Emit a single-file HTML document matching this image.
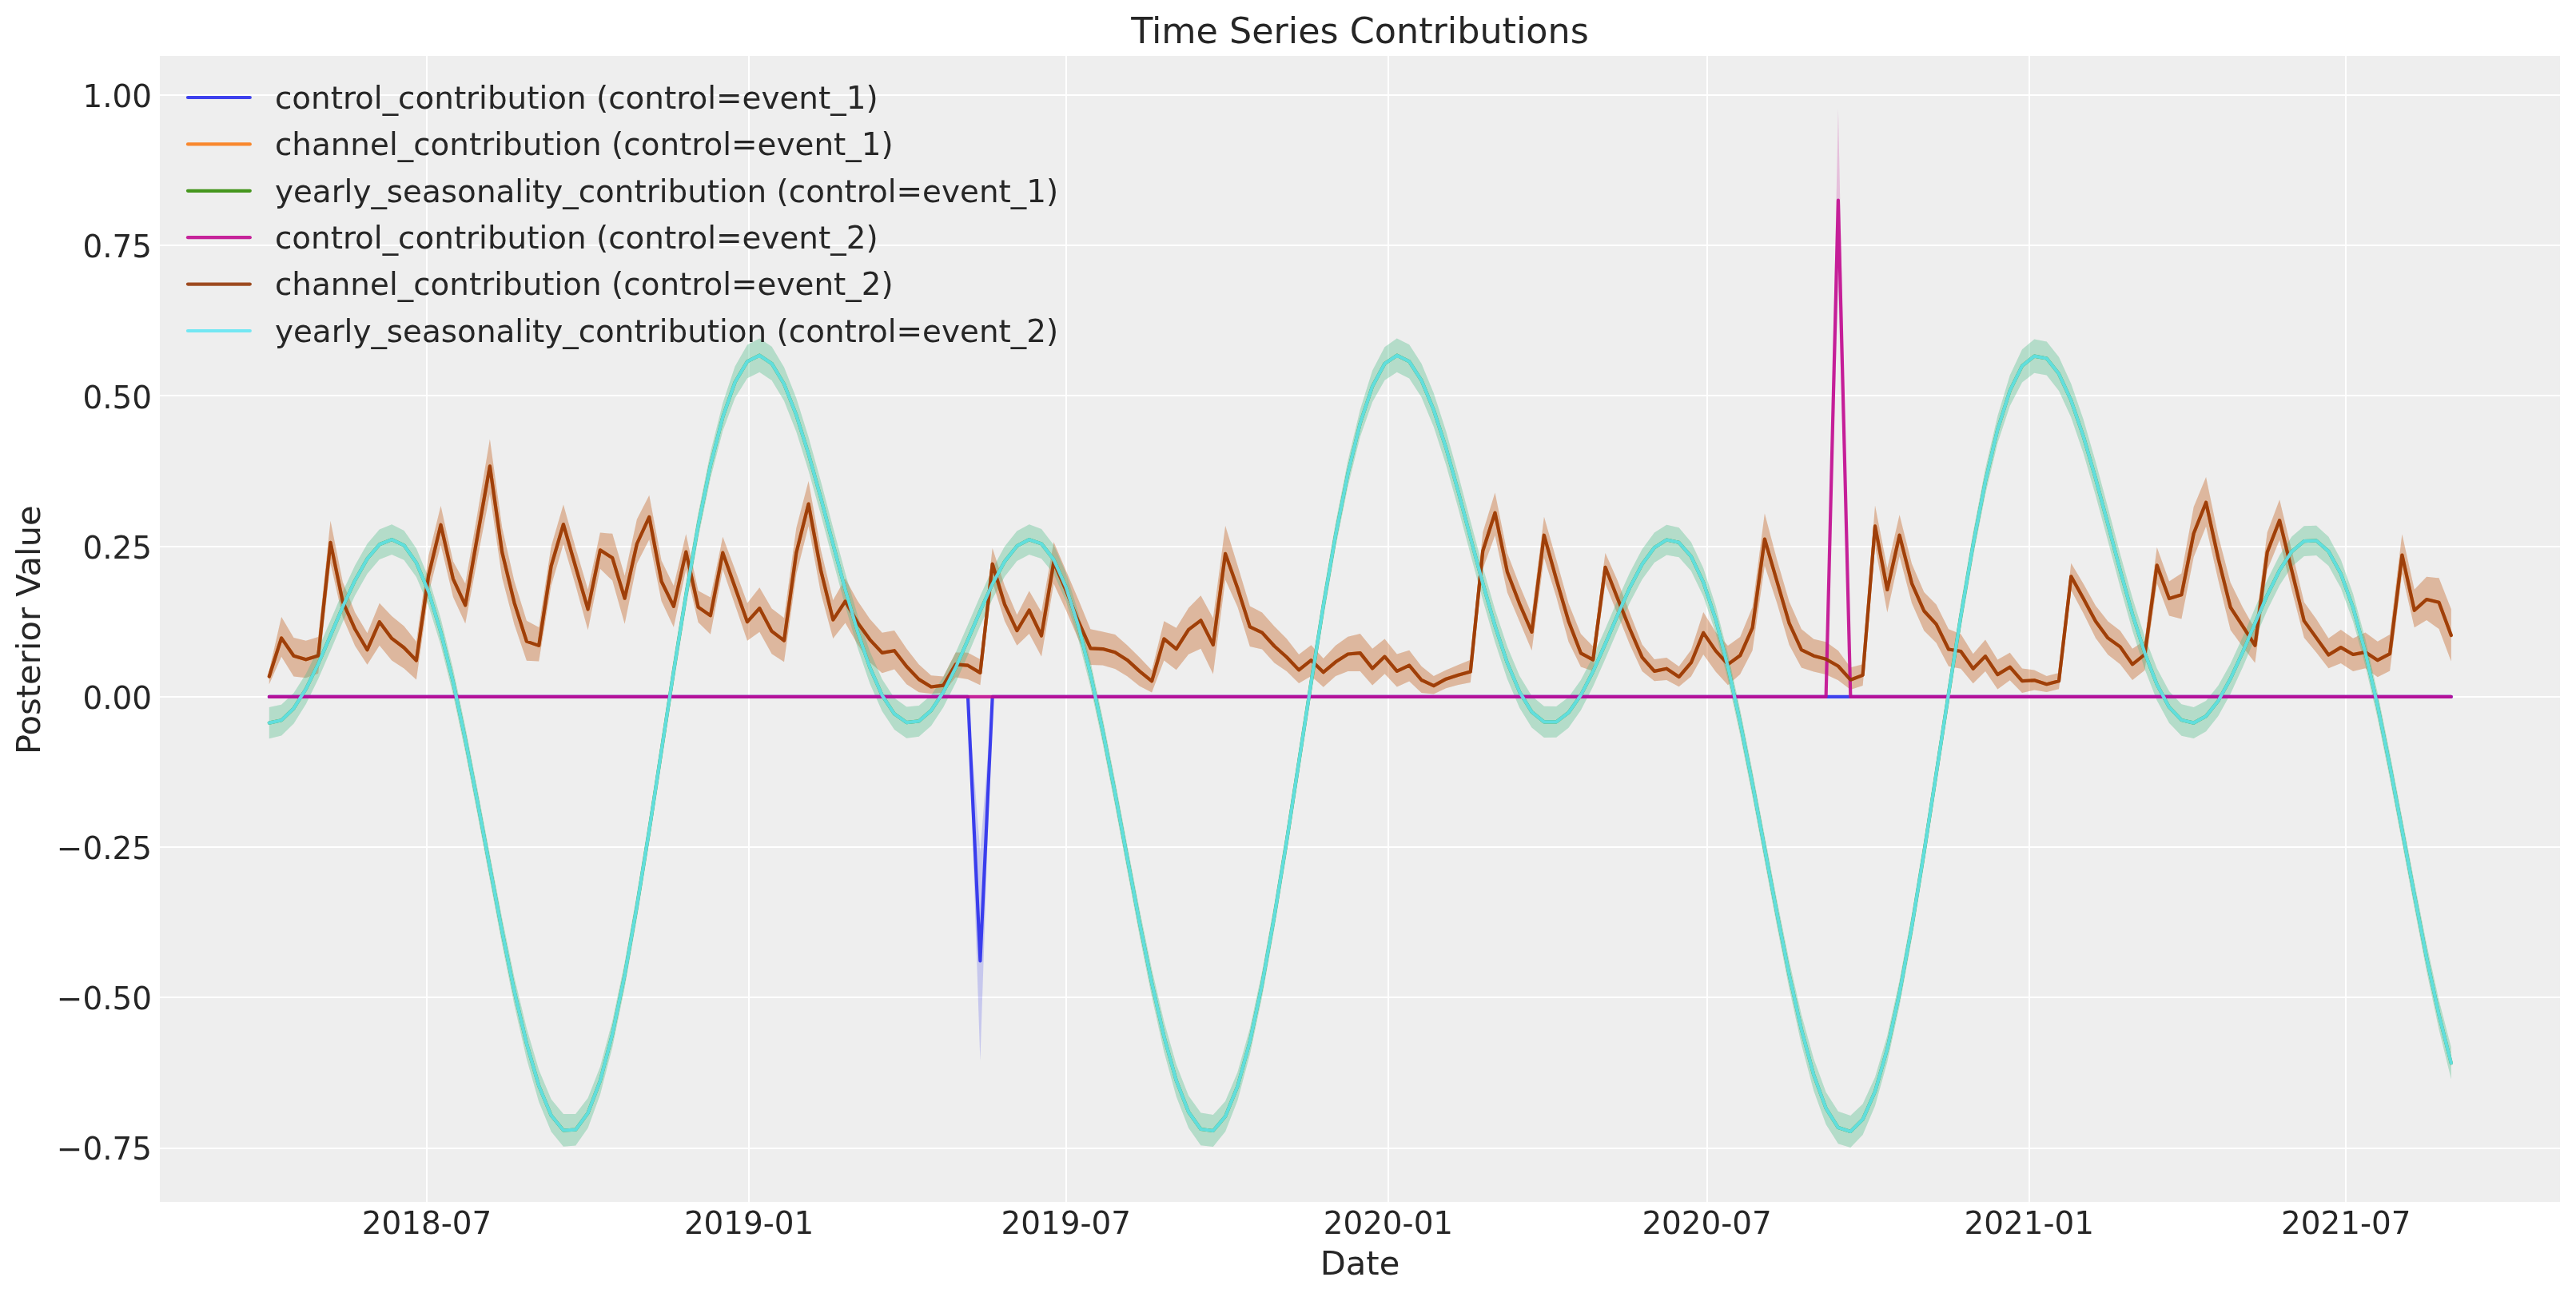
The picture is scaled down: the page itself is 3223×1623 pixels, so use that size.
<!DOCTYPE html>
<html lang="en"><head><meta charset="utf-8"><title>Time Series Contributions</title>
<style>html,body{margin:0;padding:0;background:#fff;}body{width:3223px;height:1623px;overflow:hidden;}svg{display:block;will-change:transform;}text{white-space:pre;}</style>
</head><body>
<svg width="3223" height="1623" viewBox="0 0 3223 1623" font-family='"DejaVu Sans","Liberation Sans",sans-serif' fill="#262626">
<rect x="0" y="0" width="3223" height="1623" fill="#ffffff"/>
<rect x="200.0" y="70.0" width="3003.0" height="1434.0" fill="#eeeeee"/>
<path d="M534 70.0V1504.0M937 70.0V1504.0M1334 70.0V1504.0M1737 70.0V1504.0M2136 70.0V1504.0M2539 70.0V1504.0M2935 70.0V1504.0M200.0 119H3203.0M200.0 307H3203.0M200.0 495H3203.0M200.0 684H3203.0M200.0 872H3203.0M200.0 1060H3203.0M200.0 1248H3203.0M200.0 1437H3203.0" stroke="#ffffff" stroke-width="2" fill="none" shape-rendering="crispEdges"/>
<clipPath id="ax"><rect x="200.0" y="70.0" width="3003.0" height="1434.0"/></clipPath>
<g clip-path="url(#ax)">
<polygon points="336.8,871.9 352.1,871.9 367.5,871.9 382.8,871.9 398.2,871.9 413.5,871.9 428.8,871.9 444.2,871.9 459.5,871.9 474.8,871.9 490.2,871.9 505.5,871.9 520.9,871.9 536.2,871.9 551.5,871.9 566.9,871.9 582.2,871.9 597.5,871.9 612.9,871.9 628.2,871.9 643.5,871.9 658.9,871.9 674.2,871.9 689.6,871.9 704.9,871.9 720.2,871.9 735.6,871.9 750.9,871.9 766.2,871.9 781.6,871.9 796.9,871.9 812.3,871.9 827.6,871.9 842.9,871.9 858.3,871.9 873.6,871.9 888.9,871.9 904.3,871.9 919.6,871.9 935.0,871.9 950.3,871.9 965.6,871.9 981.0,871.9 996.3,871.9 1011.6,871.9 1027.0,871.9 1042.3,871.9 1057.6,871.9 1073.0,871.9 1088.3,871.9 1103.7,871.9 1119.0,871.9 1134.3,871.9 1149.7,871.9 1165.0,871.9 1180.3,871.9 1195.7,871.9 1211.0,871.9 1226.4,1066.2 1241.7,871.9 1257.0,871.9 1272.4,871.9 1287.7,871.9 1303.0,871.9 1318.4,871.9 1333.7,871.9 1349.1,871.9 1364.4,871.9 1379.7,871.9 1395.1,871.9 1410.4,871.9 1425.7,871.9 1441.1,871.9 1456.4,871.9 1471.7,871.9 1487.1,871.9 1502.4,871.9 1517.8,871.9 1533.1,871.9 1548.4,871.9 1563.8,871.9 1579.1,871.9 1594.4,871.9 1609.8,871.9 1625.1,871.9 1640.5,871.9 1655.8,871.9 1671.1,871.9 1686.5,871.9 1701.8,871.9 1717.1,871.9 1732.5,871.9 1747.8,871.9 1763.2,871.9 1778.5,871.9 1793.8,871.9 1809.2,871.9 1824.5,871.9 1839.8,871.9 1855.2,871.9 1870.5,871.9 1885.8,871.9 1901.2,871.9 1916.5,871.9 1931.9,871.9 1947.2,871.9 1962.5,871.9 1977.9,871.9 1993.2,871.9 2008.5,871.9 2023.9,871.9 2039.2,871.9 2054.6,871.9 2069.9,871.9 2085.2,871.9 2100.6,871.9 2115.9,871.9 2131.2,871.9 2146.6,871.9 2161.9,871.9 2177.2,871.9 2192.6,871.9 2207.9,871.9 2223.3,871.9 2238.6,871.9 2253.9,871.9 2269.3,871.9 2284.6,871.9 2299.9,871.9 2315.3,871.9 2330.6,871.9 2346.0,871.9 2361.3,871.9 2376.6,871.9 2392.0,871.9 2407.3,871.9 2422.6,871.9 2438.0,871.9 2453.3,871.9 2468.7,871.9 2484.0,871.9 2499.3,871.9 2514.7,871.9 2530.0,871.9 2545.3,871.9 2560.7,871.9 2576.0,871.9 2591.3,871.9 2606.7,871.9 2622.0,871.9 2637.4,871.9 2652.7,871.9 2668.0,871.9 2683.4,871.9 2698.7,871.9 2714.0,871.9 2729.4,871.9 2744.7,871.9 2760.1,871.9 2775.4,871.9 2790.7,871.9 2806.1,871.9 2821.4,871.9 2836.7,871.9 2852.1,871.9 2867.4,871.9 2882.8,871.9 2898.1,871.9 2913.4,871.9 2928.8,871.9 2944.1,871.9 2959.4,871.9 2974.8,871.9 2990.1,871.9 3005.4,871.9 3020.8,871.9 3036.1,871.9 3051.5,871.9 3066.8,871.9 3066.8,871.9 3051.5,871.9 3036.1,871.9 3020.8,871.9 3005.4,871.9 2990.1,871.9 2974.8,871.9 2959.4,871.9 2944.1,871.9 2928.8,871.9 2913.4,871.9 2898.1,871.9 2882.8,871.9 2867.4,871.9 2852.1,871.9 2836.7,871.9 2821.4,871.9 2806.1,871.9 2790.7,871.9 2775.4,871.9 2760.1,871.9 2744.7,871.9 2729.4,871.9 2714.0,871.9 2698.7,871.9 2683.4,871.9 2668.0,871.9 2652.7,871.9 2637.4,871.9 2622.0,871.9 2606.7,871.9 2591.3,871.9 2576.0,871.9 2560.7,871.9 2545.3,871.9 2530.0,871.9 2514.7,871.9 2499.3,871.9 2484.0,871.9 2468.7,871.9 2453.3,871.9 2438.0,871.9 2422.6,871.9 2407.3,871.9 2392.0,871.9 2376.6,871.9 2361.3,871.9 2346.0,871.9 2330.6,871.9 2315.3,871.9 2299.9,871.9 2284.6,871.9 2269.3,871.9 2253.9,871.9 2238.6,871.9 2223.3,871.9 2207.9,871.9 2192.6,871.9 2177.2,871.9 2161.9,871.9 2146.6,871.9 2131.2,871.9 2115.9,871.9 2100.6,871.9 2085.2,871.9 2069.9,871.9 2054.6,871.9 2039.2,871.9 2023.9,871.9 2008.5,871.9 1993.2,871.9 1977.9,871.9 1962.5,871.9 1947.2,871.9 1931.9,871.9 1916.5,871.9 1901.2,871.9 1885.8,871.9 1870.5,871.9 1855.2,871.9 1839.8,871.9 1824.5,871.9 1809.2,871.9 1793.8,871.9 1778.5,871.9 1763.2,871.9 1747.8,871.9 1732.5,871.9 1717.1,871.9 1701.8,871.9 1686.5,871.9 1671.1,871.9 1655.8,871.9 1640.5,871.9 1625.1,871.9 1609.8,871.9 1594.4,871.9 1579.1,871.9 1563.8,871.9 1548.4,871.9 1533.1,871.9 1517.8,871.9 1502.4,871.9 1487.1,871.9 1471.7,871.9 1456.4,871.9 1441.1,871.9 1425.7,871.9 1410.4,871.9 1395.1,871.9 1379.7,871.9 1364.4,871.9 1349.1,871.9 1333.7,871.9 1318.4,871.9 1303.0,871.9 1287.7,871.9 1272.4,871.9 1257.0,871.9 1241.7,871.9 1226.4,1327.5 1211.0,871.9 1195.7,871.9 1180.3,871.9 1165.0,871.9 1149.7,871.9 1134.3,871.9 1119.0,871.9 1103.7,871.9 1088.3,871.9 1073.0,871.9 1057.6,871.9 1042.3,871.9 1027.0,871.9 1011.6,871.9 996.3,871.9 981.0,871.9 965.6,871.9 950.3,871.9 935.0,871.9 919.6,871.9 904.3,871.9 888.9,871.9 873.6,871.9 858.3,871.9 842.9,871.9 827.6,871.9 812.3,871.9 796.9,871.9 781.6,871.9 766.2,871.9 750.9,871.9 735.6,871.9 720.2,871.9 704.9,871.9 689.6,871.9 674.2,871.9 658.9,871.9 643.5,871.9 628.2,871.9 612.9,871.9 597.5,871.9 582.2,871.9 566.9,871.9 551.5,871.9 536.2,871.9 520.9,871.9 505.5,871.9 490.2,871.9 474.8,871.9 459.5,871.9 444.2,871.9 428.8,871.9 413.5,871.9 398.2,871.9 382.8,871.9 367.5,871.9 352.1,871.9 336.8,871.9" fill="#2a2eec" fill-opacity="0.2"/>
<polygon points="336.8,839.1 352.1,772.0 367.5,798.0 382.8,801.8 398.2,797.1 413.5,651.8 428.8,728.2 444.2,766.4 459.5,792.2 474.8,754.8 490.2,771.0 505.5,783.4 520.9,803.0 536.2,695.5 551.5,633.0 566.9,702.5 582.2,730.2 597.5,641.7 612.9,549.6 628.2,660.1 643.5,727.2 658.9,776.7 674.2,785.0 689.6,683.7 704.9,631.4 720.2,685.8 735.6,737.8 750.9,666.6 766.2,667.8 781.6,720.4 796.9,649.7 812.3,619.8 827.6,701.6 842.9,733.0 858.3,668.3 873.6,739.2 888.9,747.4 904.3,671.8 919.6,712.5 935.0,754.8 950.3,735.2 965.6,761.5 981.0,773.2 996.3,660.8 1011.6,601.9 1027.0,687.9 1042.3,751.0 1057.6,724.0 1073.0,752.0 1088.3,774.4 1103.7,791.7 1119.0,789.0 1134.3,811.8 1149.7,831.6 1165.0,845.2 1180.3,846.5 1195.7,816.6 1211.0,816.7 1226.4,825.1 1241.7,686.0 1257.0,732.9 1272.4,769.5 1287.7,739.5 1303.0,765.9 1318.4,678.2 1333.7,714.1 1349.1,750.0 1364.4,787.2 1379.7,790.6 1395.1,793.9 1410.4,807.4 1425.7,822.6 1441.1,838.8 1456.4,777.2 1471.7,785.7 1487.1,760.8 1502.4,745.2 1517.8,773.6 1533.1,657.9 1548.4,707.6 1563.8,758.4 1579.1,766.4 1594.4,783.8 1609.8,799.3 1625.1,819.1 1640.5,807.2 1655.8,823.9 1671.1,807.8 1686.5,796.8 1701.8,793.1 1717.1,811.7 1732.5,799.4 1747.8,818.4 1763.2,813.7 1778.5,833.7 1793.8,845.9 1809.2,838.6 1824.5,831.9 1839.8,825.7 1855.2,666.2 1870.5,616.6 1885.8,692.0 1901.2,732.2 1916.5,768.7 1931.9,646.7 1947.2,700.2 1962.5,755.0 1977.9,793.3 1993.2,808.9 2008.5,692.0 2023.9,726.8 2039.2,767.2 2054.6,806.6 2069.9,825.1 2085.2,823.1 2100.6,834.0 2115.9,813.2 2131.2,765.9 2146.6,791.0 2161.9,808.0 2177.2,796.9 2192.6,759.8 2207.9,642.5 2223.3,700.4 2238.6,752.7 2253.9,787.2 2269.3,799.8 2284.6,803.3 2299.9,814.3 2315.3,835.2 2330.6,831.3 2346.0,632.4 2361.3,710.9 2376.6,644.3 2392.0,705.5 2407.3,741.1 2422.6,756.5 2438.0,787.3 2453.3,793.5 2468.7,818.2 2484.0,800.6 2499.3,825.6 2514.7,816.7 2530.0,836.5 2545.3,838.5 2560.7,845.9 2576.0,842.0 2591.3,704.7 2606.7,730.6 2622.0,757.9 2637.4,777.4 2652.7,789.2 2668.0,811.7 2683.4,801.7 2698.7,685.1 2714.0,727.4 2729.4,717.6 2744.7,634.2 2760.1,597.1 2775.4,670.5 2790.7,729.1 2806.1,760.3 2821.4,787.2 2836.7,666.3 2852.1,625.2 2867.4,689.2 2882.8,753.5 2898.1,774.7 2913.4,798.8 2928.8,787.9 2944.1,798.8 2959.4,791.4 2974.8,802.8 2990.1,793.9 3005.4,668.6 3020.8,737.7 3036.1,721.7 3051.5,723.3 3066.8,762.2 3066.8,827.5 3051.5,787.0 3036.1,775.9 3020.8,785.3 3005.4,717.9 2990.1,839.5 2974.8,847.2 2959.4,836.3 2944.1,840.0 2928.8,829.9 2913.4,836.3 2898.1,816.6 2882.8,797.9 2867.4,738.6 2852.1,675.8 2836.7,713.2 2821.4,829.6 2806.1,809.6 2790.7,788.3 2775.4,726.0 2760.1,658.8 2744.7,697.1 2729.4,774.4 2714.0,770.6 2698.7,730.0 2683.4,838.7 2668.0,851.1 2652.7,831.2 2637.4,819.3 2622.0,798.6 2606.7,767.6 2591.3,738.5 2576.0,862.2 2560.7,866.1 2545.3,863.6 2530.0,866.9 2514.7,851.2 2499.3,862.6 2484.0,840.1 2468.7,855.2 2453.3,836.7 2438.0,833.7 2422.6,804.6 2407.3,789.2 2392.0,754.8 2376.6,696.1 2361.3,766.4 2346.0,683.0 2330.6,857.9 2315.3,863.1 2299.9,851.3 2284.6,844.0 2269.3,840.5 2253.9,835.4 2238.6,807.0 2223.3,754.7 2207.9,707.9 2192.6,814.1 2177.2,843.8 2161.9,857.3 2146.6,840.4 2131.2,819.0 2115.9,846.5 2100.6,859.2 2085.2,851.0 2069.9,852.2 2054.6,839.9 2039.2,806.7 2023.9,768.8 2008.5,730.2 1993.2,839.7 1977.9,834.6 1962.5,803.1 1947.2,747.1 1931.9,698.0 1916.5,813.9 1901.2,777.8 1885.8,741.3 1870.5,670.1 1855.2,711.9 1839.8,853.9 1824.5,857.1 1809.2,861.3 1793.8,868.6 1778.5,867.0 1763.2,852.5 1747.8,859.6 1732.5,843.3 1717.1,857.4 1701.8,840.0 1686.5,839.9 1671.1,846.0 1655.8,859.7 1640.5,845.9 1625.1,854.9 1609.8,840.1 1594.4,829.5 1579.1,812.5 1563.8,809.0 1548.4,759.4 1533.1,725.5 1517.8,843.4 1502.4,811.8 1487.1,818.7 1471.7,838.2 1456.4,826.5 1441.1,866.6 1425.7,858.4 1410.4,846.2 1395.1,837.1 1379.7,832.5 1364.4,831.9 1349.1,799.4 1333.7,763.4 1318.4,730.5 1303.0,821.4 1287.7,793.1 1272.4,807.7 1257.0,777.3 1241.7,728.0 1226.4,857.2 1211.0,850.0 1195.7,847.4 1180.3,866.8 1165.0,868.1 1149.7,866.2 1134.3,856.2 1119.0,837.6 1103.7,842.3 1088.3,828.7 1073.0,806.3 1057.6,779.5 1042.3,799.1 1027.0,742.2 1011.6,658.2 996.3,718.8 981.0,828.3 965.6,818.3 950.3,790.7 935.0,801.7 919.6,756.9 904.3,712.6 888.9,793.8 873.6,778.7 858.3,712.8 842.9,784.8 827.6,752.2 812.3,675.3 796.9,705.2 781.6,780.8 766.2,726.5 750.9,711.8 735.6,788.4 720.2,732.7 704.9,680.7 689.6,733.1 674.2,827.4 658.9,826.8 643.5,781.4 628.2,723.0 612.9,618.0 597.5,698.5 582.2,780.3 566.9,747.0 551.5,681.9 536.2,742.4 520.9,850.6 505.5,836.4 490.2,826.5 474.8,807.8 459.5,831.7 444.2,808.3 428.8,772.6 413.5,704.8 398.2,842.8 382.8,848.2 367.5,846.6 352.1,821.8 336.8,856.3" fill="#fa7c17" fill-opacity="0.2"/>
<polygon points="336.8,885.0 352.1,881.8 367.5,867.3 382.8,843.2 398.2,811.9 413.5,776.6 428.8,740.6 444.2,707.4 459.5,680.4 474.8,662.5 490.2,656.2 505.5,664.0 520.9,686.2 536.2,723.1 551.5,774.0 566.9,837.1 582.2,909.4 597.5,988.0 612.9,1069.4 628.2,1148.9 643.5,1222.9 658.9,1286.8 674.2,1338.7 689.6,1375.5 704.9,1394.1 720.2,1393.9 735.6,1374.0 750.9,1335.1 766.2,1277.8 781.6,1204.6 796.9,1118.7 812.3,1023.7 827.6,924.3 842.9,824.7 858.3,729.5 873.6,642.2 888.9,566.2 904.3,504.6 919.6,458.5 935.0,431.5 950.3,423.6 965.6,433.8 981.0,459.4 996.3,498.2 1011.6,546.9 1027.0,602.2 1042.3,660.3 1057.6,717.3 1073.0,769.9 1088.3,815.0 1103.7,850.1 1119.0,873.5 1134.3,884.5 1149.7,883.0 1165.0,870.0 1180.3,847.2 1195.7,816.7 1211.0,781.8 1226.4,745.7 1241.7,711.9 1257.0,683.7 1272.4,664.4 1287.7,656.3 1303.0,662.0 1318.4,682.1 1333.7,716.9 1349.1,765.9 1364.4,827.4 1379.7,898.7 1395.1,976.5 1410.4,1057.7 1425.7,1137.8 1441.1,1212.8 1456.4,1278.3 1471.7,1332.1 1487.1,1371.3 1502.4,1392.6 1517.8,1395.1 1533.1,1378.0 1548.4,1341.8 1563.8,1287.1 1579.1,1215.9 1594.4,1131.7 1609.8,1037.7 1625.1,938.6 1640.5,838.8 1655.8,742.7 1671.1,654.1 1686.5,576.2 1701.8,512.6 1717.1,463.8 1732.5,434.2 1747.8,423.6 1763.2,431.3 1778.5,454.9 1793.8,491.9 1809.2,539.4 1824.5,594.0 1839.8,651.9 1855.2,709.4 1870.5,762.8 1885.8,809.1 1901.2,845.8 1916.5,870.9 1931.9,883.7 1947.2,884.0 1962.5,872.5 1977.9,851.0 1993.2,821.4 2008.5,786.9 2023.9,750.8 2039.2,716.4 2054.6,687.3 2069.9,666.5 2085.2,656.7 2100.6,660.3 2115.9,678.4 2131.2,711.1 2146.6,758.1 2161.9,817.9 2177.2,888.0 2192.6,965.1 2207.9,1046.1 2223.3,1126.6 2238.6,1202.6 2253.9,1269.7 2269.3,1325.1 2284.6,1366.7 2299.9,1390.8 2315.3,1396.0 2330.6,1381.6 2346.0,1348.1 2361.3,1296.0 2376.6,1226.9 2392.0,1144.4 2407.3,1051.5 2422.6,952.9 2438.0,852.9 2453.3,756.0 2468.7,666.3 2484.0,586.5 2499.3,520.7 2514.7,469.7 2530.0,437.3 2545.3,424.5 2560.7,427.4 2576.0,446.7 2591.3,480.2 2606.7,525.0 2622.0,577.9 2637.4,635.3 2652.7,693.2 2668.0,748.1 2683.4,796.8 2698.7,836.4 2714.0,865.0 2729.4,881.3 2744.7,885.1 2760.1,876.9 2775.4,858.0 2790.7,830.5 2806.1,797.1 2821.4,761.1 2836.7,725.8 2852.1,694.9 2867.4,671.4 2882.8,658.2 2898.1,657.8 2913.4,671.7 2928.8,700.2 2944.1,743.2 2959.4,799.6 2974.8,867.2 2990.1,942.5 3005.4,1022.8 3020.8,1104.0 3036.1,1181.5 3051.5,1251.6 3066.8,1310.4 3066.8,1350.3 3051.5,1287.9 3036.1,1215.2 3020.8,1135.9 3005.4,1054.4 2990.1,974.2 2974.8,898.9 2959.4,832.7 2944.1,777.7 2928.8,735.7 2913.4,708.0 2898.1,695.1 2882.8,695.9 2867.4,709.1 2852.1,732.5 2836.7,763.5 2821.4,798.7 2806.1,834.7 2790.7,868.2 2775.4,896.0 2760.1,915.3 2744.7,924.1 2729.4,920.7 2714.0,904.7 2698.7,876.5 2683.4,837.3 2668.0,789.0 2652.7,734.5 2637.4,676.9 2622.0,619.9 2606.7,567.2 2591.3,522.3 2576.0,488.9 2560.7,469.6 2545.3,466.7 2530.0,478.5 2514.7,508.1 2499.3,554.4 2484.0,618.4 2468.7,696.4 2453.3,786.1 2438.0,883.1 2422.6,983.0 2407.3,1081.6 2392.0,1174.6 2376.6,1258.5 2361.3,1329.0 2346.0,1383.7 2330.6,1420.0 2315.3,1435.9 2299.9,1431.3 2284.6,1407.0 2269.3,1365.1 2253.9,1307.0 2238.6,1236.7 2223.3,1159.0 2207.9,1077.7 2192.6,996.7 2177.2,919.7 2161.9,850.6 2146.6,792.1 2131.2,746.2 2115.9,714.4 2100.6,697.3 2085.2,694.4 2069.9,704.1 2054.6,724.9 2039.2,754.1 2023.9,788.4 2008.5,824.6 1993.2,859.1 1977.9,888.8 1962.5,910.8 1947.2,922.8 1931.9,923.0 1916.5,910.6 1901.2,885.8 1885.8,849.5 1870.5,803.6 1855.2,750.5 1839.8,693.4 1824.5,635.9 1809.2,581.6 1793.8,534.1 1778.5,497.1 1763.2,473.5 1747.8,465.7 1732.5,475.7 1717.1,503.0 1701.8,546.5 1686.5,608.3 1671.1,684.5 1655.8,772.8 1640.5,868.9 1625.1,968.7 1609.8,1067.8 1594.4,1161.8 1579.1,1247.2 1563.8,1319.8 1548.4,1376.9 1533.1,1416.0 1517.8,1434.9 1502.4,1433.3 1487.1,1411.6 1471.7,1372.1 1456.4,1316.2 1441.1,1247.2 1425.7,1170.5 1410.4,1089.4 1395.1,1008.1 1379.7,930.3 1364.4,859.8 1349.1,799.7 1333.7,752.0 1318.4,718.1 1303.0,698.9 1287.7,694.0 1272.4,702.0 1257.0,721.4 1241.7,749.5 1226.4,783.3 1211.0,819.4 1195.7,854.4 1180.3,884.9 1165.0,908.2 1149.7,921.7 1134.3,923.7 1119.0,913.1 1103.7,890.0 1088.3,855.3 1073.0,810.6 1057.6,758.4 1042.3,701.7 1027.0,644.0 1011.6,589.0 996.3,540.3 981.0,501.6 965.6,475.9 950.3,465.8 935.0,473.3 919.6,498.0 904.3,539.2 888.9,598.6 873.6,672.9 858.3,759.6 842.9,854.9 827.6,954.4 812.3,1053.8 796.9,1148.8 781.6,1235.7 766.2,1310.4 750.9,1369.8 735.6,1411.6 720.2,1433.5 704.9,1434.8 689.6,1415.9 674.2,1378.8 658.9,1325.1 643.5,1257.6 628.2,1181.8 612.9,1101.0 597.5,1019.6 582.2,941.1 566.9,869.3 551.5,807.6 536.2,758.0 520.9,722.0 505.5,700.7 490.2,693.9 474.8,700.1 459.5,718.0 444.2,745.1 428.8,778.3 413.5,814.3 398.2,849.6 382.8,880.9 367.5,905.5 352.1,920.5 336.8,924.2" fill="#328c06" fill-opacity="0.2"/>
<polygon points="336.8,871.9 352.1,871.9 367.5,871.9 382.8,871.9 398.2,871.9 413.5,871.9 428.8,871.9 444.2,871.9 459.5,871.9 474.8,871.9 490.2,871.9 505.5,871.9 520.9,871.9 536.2,871.9 551.5,871.9 566.9,871.9 582.2,871.9 597.5,871.9 612.9,871.9 628.2,871.9 643.5,871.9 658.9,871.9 674.2,871.9 689.6,871.9 704.9,871.9 720.2,871.9 735.6,871.9 750.9,871.9 766.2,871.9 781.6,871.9 796.9,871.9 812.3,871.9 827.6,871.9 842.9,871.9 858.3,871.9 873.6,871.9 888.9,871.9 904.3,871.9 919.6,871.9 935.0,871.9 950.3,871.9 965.6,871.9 981.0,871.9 996.3,871.9 1011.6,871.9 1027.0,871.9 1042.3,871.9 1057.6,871.9 1073.0,871.9 1088.3,871.9 1103.7,871.9 1119.0,871.9 1134.3,871.9 1149.7,871.9 1165.0,871.9 1180.3,871.9 1195.7,871.9 1211.0,871.9 1226.4,871.9 1241.7,871.9 1257.0,871.9 1272.4,871.9 1287.7,871.9 1303.0,871.9 1318.4,871.9 1333.7,871.9 1349.1,871.9 1364.4,871.9 1379.7,871.9 1395.1,871.9 1410.4,871.9 1425.7,871.9 1441.1,871.9 1456.4,871.9 1471.7,871.9 1487.1,871.9 1502.4,871.9 1517.8,871.9 1533.1,871.9 1548.4,871.9 1563.8,871.9 1579.1,871.9 1594.4,871.9 1609.8,871.9 1625.1,871.9 1640.5,871.9 1655.8,871.9 1671.1,871.9 1686.5,871.9 1701.8,871.9 1717.1,871.9 1732.5,871.9 1747.8,871.9 1763.2,871.9 1778.5,871.9 1793.8,871.9 1809.2,871.9 1824.5,871.9 1839.8,871.9 1855.2,871.9 1870.5,871.9 1885.8,871.9 1901.2,871.9 1916.5,871.9 1931.9,871.9 1947.2,871.9 1962.5,871.9 1977.9,871.9 1993.2,871.9 2008.5,871.9 2023.9,871.9 2039.2,871.9 2054.6,871.9 2069.9,871.9 2085.2,871.9 2100.6,871.9 2115.9,871.9 2131.2,871.9 2146.6,871.9 2161.9,871.9 2177.2,871.9 2192.6,871.9 2207.9,871.9 2223.3,871.9 2238.6,871.9 2253.9,871.9 2269.3,871.9 2284.6,871.9 2299.9,136.0 2315.3,871.9 2330.6,871.9 2346.0,871.9 2361.3,871.9 2376.6,871.9 2392.0,871.9 2407.3,871.9 2422.6,871.9 2438.0,871.9 2453.3,871.9 2468.7,871.9 2484.0,871.9 2499.3,871.9 2514.7,871.9 2530.0,871.9 2545.3,871.9 2560.7,871.9 2576.0,871.9 2591.3,871.9 2606.7,871.9 2622.0,871.9 2637.4,871.9 2652.7,871.9 2668.0,871.9 2683.4,871.9 2698.7,871.9 2714.0,871.9 2729.4,871.9 2744.7,871.9 2760.1,871.9 2775.4,871.9 2790.7,871.9 2806.1,871.9 2821.4,871.9 2836.7,871.9 2852.1,871.9 2867.4,871.9 2882.8,871.9 2898.1,871.9 2913.4,871.9 2928.8,871.9 2944.1,871.9 2959.4,871.9 2974.8,871.9 2990.1,871.9 3005.4,871.9 3020.8,871.9 3036.1,871.9 3051.5,871.9 3066.8,871.9 3066.8,871.9 3051.5,871.9 3036.1,871.9 3020.8,871.9 3005.4,871.9 2990.1,871.9 2974.8,871.9 2959.4,871.9 2944.1,871.9 2928.8,871.9 2913.4,871.9 2898.1,871.9 2882.8,871.9 2867.4,871.9 2852.1,871.9 2836.7,871.9 2821.4,871.9 2806.1,871.9 2790.7,871.9 2775.4,871.9 2760.1,871.9 2744.7,871.9 2729.4,871.9 2714.0,871.9 2698.7,871.9 2683.4,871.9 2668.0,871.9 2652.7,871.9 2637.4,871.9 2622.0,871.9 2606.7,871.9 2591.3,871.9 2576.0,871.9 2560.7,871.9 2545.3,871.9 2530.0,871.9 2514.7,871.9 2499.3,871.9 2484.0,871.9 2468.7,871.9 2453.3,871.9 2438.0,871.9 2422.6,871.9 2407.3,871.9 2392.0,871.9 2376.6,871.9 2361.3,871.9 2346.0,871.9 2330.6,871.9 2315.3,871.9 2299.9,359.7 2284.6,871.9 2269.3,871.9 2253.9,871.9 2238.6,871.9 2223.3,871.9 2207.9,871.9 2192.6,871.9 2177.2,871.9 2161.9,871.9 2146.6,871.9 2131.2,871.9 2115.9,871.9 2100.6,871.9 2085.2,871.9 2069.9,871.9 2054.6,871.9 2039.2,871.9 2023.9,871.9 2008.5,871.9 1993.2,871.9 1977.9,871.9 1962.5,871.9 1947.2,871.9 1931.9,871.9 1916.5,871.9 1901.2,871.9 1885.8,871.9 1870.5,871.9 1855.2,871.9 1839.8,871.9 1824.5,871.9 1809.2,871.9 1793.8,871.9 1778.5,871.9 1763.2,871.9 1747.8,871.9 1732.5,871.9 1717.1,871.9 1701.8,871.9 1686.5,871.9 1671.1,871.9 1655.8,871.9 1640.5,871.9 1625.1,871.9 1609.8,871.9 1594.4,871.9 1579.1,871.9 1563.8,871.9 1548.4,871.9 1533.1,871.9 1517.8,871.9 1502.4,871.9 1487.1,871.9 1471.7,871.9 1456.4,871.9 1441.1,871.9 1425.7,871.9 1410.4,871.9 1395.1,871.9 1379.7,871.9 1364.4,871.9 1349.1,871.9 1333.7,871.9 1318.4,871.9 1303.0,871.9 1287.7,871.9 1272.4,871.9 1257.0,871.9 1241.7,871.9 1226.4,871.9 1211.0,871.9 1195.7,871.9 1180.3,871.9 1165.0,871.9 1149.7,871.9 1134.3,871.9 1119.0,871.9 1103.7,871.9 1088.3,871.9 1073.0,871.9 1057.6,871.9 1042.3,871.9 1027.0,871.9 1011.6,871.9 996.3,871.9 981.0,871.9 965.6,871.9 950.3,871.9 935.0,871.9 919.6,871.9 904.3,871.9 888.9,871.9 873.6,871.9 858.3,871.9 842.9,871.9 827.6,871.9 812.3,871.9 796.9,871.9 781.6,871.9 766.2,871.9 750.9,871.9 735.6,871.9 720.2,871.9 704.9,871.9 689.6,871.9 674.2,871.9 658.9,871.9 643.5,871.9 628.2,871.9 612.9,871.9 597.5,871.9 582.2,871.9 566.9,871.9 551.5,871.9 536.2,871.9 520.9,871.9 505.5,871.9 490.2,871.9 474.8,871.9 459.5,871.9 444.2,871.9 428.8,871.9 413.5,871.9 398.2,871.9 382.8,871.9 367.5,871.9 352.1,871.9 336.8,871.9" fill="#c10c90" fill-opacity="0.2"/>
<polygon points="336.8,839.1 352.1,772.0 367.5,798.0 382.8,801.8 398.2,797.1 413.5,651.8 428.8,728.2 444.2,766.4 459.5,792.2 474.8,754.8 490.2,771.0 505.5,783.4 520.9,803.0 536.2,695.5 551.5,633.0 566.9,702.5 582.2,730.2 597.5,641.7 612.9,549.6 628.2,660.1 643.5,727.2 658.9,776.7 674.2,785.0 689.6,683.7 704.9,631.4 720.2,685.8 735.6,737.8 750.9,666.6 766.2,667.8 781.6,720.4 796.9,649.7 812.3,619.8 827.6,701.6 842.9,733.0 858.3,668.3 873.6,739.2 888.9,747.4 904.3,671.8 919.6,712.5 935.0,754.8 950.3,735.2 965.6,761.5 981.0,773.2 996.3,660.8 1011.6,601.9 1027.0,687.9 1042.3,751.0 1057.6,724.0 1073.0,752.0 1088.3,774.4 1103.7,791.7 1119.0,789.0 1134.3,811.8 1149.7,831.6 1165.0,845.2 1180.3,846.5 1195.7,816.6 1211.0,816.7 1226.4,825.1 1241.7,686.0 1257.0,732.9 1272.4,769.5 1287.7,739.5 1303.0,765.9 1318.4,678.2 1333.7,714.1 1349.1,750.0 1364.4,787.2 1379.7,790.6 1395.1,793.9 1410.4,807.4 1425.7,822.6 1441.1,838.8 1456.4,777.2 1471.7,785.7 1487.1,760.8 1502.4,745.2 1517.8,773.6 1533.1,657.9 1548.4,707.6 1563.8,758.4 1579.1,766.4 1594.4,783.8 1609.8,799.3 1625.1,819.1 1640.5,807.2 1655.8,823.9 1671.1,807.8 1686.5,796.8 1701.8,793.1 1717.1,811.7 1732.5,799.4 1747.8,818.4 1763.2,813.7 1778.5,833.7 1793.8,845.9 1809.2,838.6 1824.5,831.9 1839.8,825.7 1855.2,666.2 1870.5,616.6 1885.8,692.0 1901.2,732.2 1916.5,768.7 1931.9,646.7 1947.2,700.2 1962.5,755.0 1977.9,793.3 1993.2,808.9 2008.5,692.0 2023.9,726.8 2039.2,767.2 2054.6,806.6 2069.9,825.1 2085.2,823.1 2100.6,834.0 2115.9,813.2 2131.2,765.9 2146.6,791.0 2161.9,808.0 2177.2,796.9 2192.6,759.8 2207.9,642.5 2223.3,700.4 2238.6,752.7 2253.9,787.2 2269.3,799.8 2284.6,803.3 2299.9,814.3 2315.3,835.2 2330.6,831.3 2346.0,632.4 2361.3,710.9 2376.6,644.3 2392.0,705.5 2407.3,741.1 2422.6,756.5 2438.0,787.3 2453.3,793.5 2468.7,818.2 2484.0,800.6 2499.3,825.6 2514.7,816.7 2530.0,836.5 2545.3,838.5 2560.7,845.9 2576.0,842.0 2591.3,704.7 2606.7,730.6 2622.0,757.9 2637.4,777.4 2652.7,789.2 2668.0,811.7 2683.4,801.7 2698.7,685.1 2714.0,727.4 2729.4,717.6 2744.7,634.2 2760.1,597.1 2775.4,670.5 2790.7,729.1 2806.1,760.3 2821.4,787.2 2836.7,666.3 2852.1,625.2 2867.4,689.2 2882.8,753.5 2898.1,774.7 2913.4,798.8 2928.8,787.9 2944.1,798.8 2959.4,791.4 2974.8,802.8 2990.1,793.9 3005.4,668.6 3020.8,737.7 3036.1,721.7 3051.5,723.3 3066.8,762.2 3066.8,827.5 3051.5,787.0 3036.1,775.9 3020.8,785.3 3005.4,717.9 2990.1,839.5 2974.8,847.2 2959.4,836.3 2944.1,840.0 2928.8,829.9 2913.4,836.3 2898.1,816.6 2882.8,797.9 2867.4,738.6 2852.1,675.8 2836.7,713.2 2821.4,829.6 2806.1,809.6 2790.7,788.3 2775.4,726.0 2760.1,658.8 2744.7,697.1 2729.4,774.4 2714.0,770.6 2698.7,730.0 2683.4,838.7 2668.0,851.1 2652.7,831.2 2637.4,819.3 2622.0,798.6 2606.7,767.6 2591.3,738.5 2576.0,862.2 2560.7,866.1 2545.3,863.6 2530.0,866.9 2514.7,851.2 2499.3,862.6 2484.0,840.1 2468.7,855.2 2453.3,836.7 2438.0,833.7 2422.6,804.6 2407.3,789.2 2392.0,754.8 2376.6,696.1 2361.3,766.4 2346.0,683.0 2330.6,857.9 2315.3,863.1 2299.9,851.3 2284.6,844.0 2269.3,840.5 2253.9,835.4 2238.6,807.0 2223.3,754.7 2207.9,707.9 2192.6,814.1 2177.2,843.8 2161.9,857.3 2146.6,840.4 2131.2,819.0 2115.9,846.5 2100.6,859.2 2085.2,851.0 2069.9,852.2 2054.6,839.9 2039.2,806.7 2023.9,768.8 2008.5,730.2 1993.2,839.7 1977.9,834.6 1962.5,803.1 1947.2,747.1 1931.9,698.0 1916.5,813.9 1901.2,777.8 1885.8,741.3 1870.5,670.1 1855.2,711.9 1839.8,853.9 1824.5,857.1 1809.2,861.3 1793.8,868.6 1778.5,867.0 1763.2,852.5 1747.8,859.6 1732.5,843.3 1717.1,857.4 1701.8,840.0 1686.5,839.9 1671.1,846.0 1655.8,859.7 1640.5,845.9 1625.1,854.9 1609.8,840.1 1594.4,829.5 1579.1,812.5 1563.8,809.0 1548.4,759.4 1533.1,725.5 1517.8,843.4 1502.4,811.8 1487.1,818.7 1471.7,838.2 1456.4,826.5 1441.1,866.6 1425.7,858.4 1410.4,846.2 1395.1,837.1 1379.7,832.5 1364.4,831.9 1349.1,799.4 1333.7,763.4 1318.4,730.5 1303.0,821.4 1287.7,793.1 1272.4,807.7 1257.0,777.3 1241.7,728.0 1226.4,857.2 1211.0,850.0 1195.7,847.4 1180.3,866.8 1165.0,868.1 1149.7,866.2 1134.3,856.2 1119.0,837.6 1103.7,842.3 1088.3,828.7 1073.0,806.3 1057.6,779.5 1042.3,799.1 1027.0,742.2 1011.6,658.2 996.3,718.8 981.0,828.3 965.6,818.3 950.3,790.7 935.0,801.7 919.6,756.9 904.3,712.6 888.9,793.8 873.6,778.7 858.3,712.8 842.9,784.8 827.6,752.2 812.3,675.3 796.9,705.2 781.6,780.8 766.2,726.5 750.9,711.8 735.6,788.4 720.2,732.7 704.9,680.7 689.6,733.1 674.2,827.4 658.9,826.8 643.5,781.4 628.2,723.0 612.9,618.0 597.5,698.5 582.2,780.3 566.9,747.0 551.5,681.9 536.2,742.4 520.9,850.6 505.5,836.4 490.2,826.5 474.8,807.8 459.5,831.7 444.2,808.3 428.8,772.6 413.5,704.8 398.2,842.8 382.8,848.2 367.5,846.6 352.1,821.8 336.8,856.3" fill="#933708" fill-opacity="0.2"/>
<polygon points="336.8,885.0 352.1,881.8 367.5,867.3 382.8,843.2 398.2,811.9 413.5,776.6 428.8,740.6 444.2,707.4 459.5,680.4 474.8,662.5 490.2,656.2 505.5,664.0 520.9,686.2 536.2,723.1 551.5,774.0 566.9,837.1 582.2,909.4 597.5,988.0 612.9,1069.4 628.2,1148.9 643.5,1222.9 658.9,1286.8 674.2,1338.7 689.6,1375.5 704.9,1394.1 720.2,1393.9 735.6,1374.0 750.9,1335.1 766.2,1277.8 781.6,1204.6 796.9,1118.7 812.3,1023.7 827.6,924.3 842.9,824.7 858.3,729.5 873.6,642.2 888.9,566.2 904.3,504.6 919.6,458.5 935.0,431.5 950.3,423.6 965.6,433.8 981.0,459.4 996.3,498.2 1011.6,546.9 1027.0,602.2 1042.3,660.3 1057.6,717.3 1073.0,769.9 1088.3,815.0 1103.7,850.1 1119.0,873.5 1134.3,884.5 1149.7,883.0 1165.0,870.0 1180.3,847.2 1195.7,816.7 1211.0,781.8 1226.4,745.7 1241.7,711.9 1257.0,683.7 1272.4,664.4 1287.7,656.3 1303.0,662.0 1318.4,682.1 1333.7,716.9 1349.1,765.9 1364.4,827.4 1379.7,898.7 1395.1,976.5 1410.4,1057.7 1425.7,1137.8 1441.1,1212.8 1456.4,1278.3 1471.7,1332.1 1487.1,1371.3 1502.4,1392.6 1517.8,1395.1 1533.1,1378.0 1548.4,1341.8 1563.8,1287.1 1579.1,1215.9 1594.4,1131.7 1609.8,1037.7 1625.1,938.6 1640.5,838.8 1655.8,742.7 1671.1,654.1 1686.5,576.2 1701.8,512.6 1717.1,463.8 1732.5,434.2 1747.8,423.6 1763.2,431.3 1778.5,454.9 1793.8,491.9 1809.2,539.4 1824.5,594.0 1839.8,651.9 1855.2,709.4 1870.5,762.8 1885.8,809.1 1901.2,845.8 1916.5,870.9 1931.9,883.7 1947.2,884.0 1962.5,872.5 1977.9,851.0 1993.2,821.4 2008.5,786.9 2023.9,750.8 2039.2,716.4 2054.6,687.3 2069.9,666.5 2085.2,656.7 2100.6,660.3 2115.9,678.4 2131.2,711.1 2146.6,758.1 2161.9,817.9 2177.2,888.0 2192.6,965.1 2207.9,1046.1 2223.3,1126.6 2238.6,1202.6 2253.9,1269.7 2269.3,1325.1 2284.6,1366.7 2299.9,1390.8 2315.3,1396.0 2330.6,1381.6 2346.0,1348.1 2361.3,1296.0 2376.6,1226.9 2392.0,1144.4 2407.3,1051.5 2422.6,952.9 2438.0,852.9 2453.3,756.0 2468.7,666.3 2484.0,586.5 2499.3,520.7 2514.7,469.7 2530.0,437.3 2545.3,424.5 2560.7,427.4 2576.0,446.7 2591.3,480.2 2606.7,525.0 2622.0,577.9 2637.4,635.3 2652.7,693.2 2668.0,748.1 2683.4,796.8 2698.7,836.4 2714.0,865.0 2729.4,881.3 2744.7,885.1 2760.1,876.9 2775.4,858.0 2790.7,830.5 2806.1,797.1 2821.4,761.1 2836.7,725.8 2852.1,694.9 2867.4,671.4 2882.8,658.2 2898.1,657.8 2913.4,671.7 2928.8,700.2 2944.1,743.2 2959.4,799.6 2974.8,867.2 2990.1,942.5 3005.4,1022.8 3020.8,1104.0 3036.1,1181.5 3051.5,1251.6 3066.8,1310.4 3066.8,1350.3 3051.5,1287.9 3036.1,1215.2 3020.8,1135.9 3005.4,1054.4 2990.1,974.2 2974.8,898.9 2959.4,832.7 2944.1,777.7 2928.8,735.7 2913.4,708.0 2898.1,695.1 2882.8,695.9 2867.4,709.1 2852.1,732.5 2836.7,763.5 2821.4,798.7 2806.1,834.7 2790.7,868.2 2775.4,896.0 2760.1,915.3 2744.7,924.1 2729.4,920.7 2714.0,904.7 2698.7,876.5 2683.4,837.3 2668.0,789.0 2652.7,734.5 2637.4,676.9 2622.0,619.9 2606.7,567.2 2591.3,522.3 2576.0,488.9 2560.7,469.6 2545.3,466.7 2530.0,478.5 2514.7,508.1 2499.3,554.4 2484.0,618.4 2468.7,696.4 2453.3,786.1 2438.0,883.1 2422.6,983.0 2407.3,1081.6 2392.0,1174.6 2376.6,1258.5 2361.3,1329.0 2346.0,1383.7 2330.6,1420.0 2315.3,1435.9 2299.9,1431.3 2284.6,1407.0 2269.3,1365.1 2253.9,1307.0 2238.6,1236.7 2223.3,1159.0 2207.9,1077.7 2192.6,996.7 2177.2,919.7 2161.9,850.6 2146.6,792.1 2131.2,746.2 2115.9,714.4 2100.6,697.3 2085.2,694.4 2069.9,704.1 2054.6,724.9 2039.2,754.1 2023.9,788.4 2008.5,824.6 1993.2,859.1 1977.9,888.8 1962.5,910.8 1947.2,922.8 1931.9,923.0 1916.5,910.6 1901.2,885.8 1885.8,849.5 1870.5,803.6 1855.2,750.5 1839.8,693.4 1824.5,635.9 1809.2,581.6 1793.8,534.1 1778.5,497.1 1763.2,473.5 1747.8,465.7 1732.5,475.7 1717.1,503.0 1701.8,546.5 1686.5,608.3 1671.1,684.5 1655.8,772.8 1640.5,868.9 1625.1,968.7 1609.8,1067.8 1594.4,1161.8 1579.1,1247.2 1563.8,1319.8 1548.4,1376.9 1533.1,1416.0 1517.8,1434.9 1502.4,1433.3 1487.1,1411.6 1471.7,1372.1 1456.4,1316.2 1441.1,1247.2 1425.7,1170.5 1410.4,1089.4 1395.1,1008.1 1379.7,930.3 1364.4,859.8 1349.1,799.7 1333.7,752.0 1318.4,718.1 1303.0,698.9 1287.7,694.0 1272.4,702.0 1257.0,721.4 1241.7,749.5 1226.4,783.3 1211.0,819.4 1195.7,854.4 1180.3,884.9 1165.0,908.2 1149.7,921.7 1134.3,923.7 1119.0,913.1 1103.7,890.0 1088.3,855.3 1073.0,810.6 1057.6,758.4 1042.3,701.7 1027.0,644.0 1011.6,589.0 996.3,540.3 981.0,501.6 965.6,475.9 950.3,465.8 935.0,473.3 919.6,498.0 904.3,539.2 888.9,598.6 873.6,672.9 858.3,759.6 842.9,854.9 827.6,954.4 812.3,1053.8 796.9,1148.8 781.6,1235.7 766.2,1310.4 750.9,1369.8 735.6,1411.6 720.2,1433.5 704.9,1434.8 689.6,1415.9 674.2,1378.8 658.9,1325.1 643.5,1257.6 628.2,1181.8 612.9,1101.0 597.5,1019.6 582.2,941.1 566.9,869.3 551.5,807.6 536.2,758.0 520.9,722.0 505.5,700.7 490.2,693.9 474.8,700.1 459.5,718.0 444.2,745.1 428.8,778.3 413.5,814.3 398.2,849.6 382.8,880.9 367.5,905.5 352.1,920.5 336.8,924.2" fill="#65e5f3" fill-opacity="0.2"/>
<polyline points="336.8,871.9 352.1,871.9 367.5,871.9 382.8,871.9 398.2,871.9 413.5,871.9 428.8,871.9 444.2,871.9 459.5,871.9 474.8,871.9 490.2,871.9 505.5,871.9 520.9,871.9 536.2,871.9 551.5,871.9 566.9,871.9 582.2,871.9 597.5,871.9 612.9,871.9 628.2,871.9 643.5,871.9 658.9,871.9 674.2,871.9 689.6,871.9 704.9,871.9 720.2,871.9 735.6,871.9 750.9,871.9 766.2,871.9 781.6,871.9 796.9,871.9 812.3,871.9 827.6,871.9 842.9,871.9 858.3,871.9 873.6,871.9 888.9,871.9 904.3,871.9 919.6,871.9 935.0,871.9 950.3,871.9 965.6,871.9 981.0,871.9 996.3,871.9 1011.6,871.9 1027.0,871.9 1042.3,871.9 1057.6,871.9 1073.0,871.9 1088.3,871.9 1103.7,871.9 1119.0,871.9 1134.3,871.9 1149.7,871.9 1165.0,871.9 1180.3,871.9 1195.7,871.9 1211.0,871.9 1226.4,1202.5 1241.7,871.9 1257.0,871.9 1272.4,871.9 1287.7,871.9 1303.0,871.9 1318.4,871.9 1333.7,871.9 1349.1,871.9 1364.4,871.9 1379.7,871.9 1395.1,871.9 1410.4,871.9 1425.7,871.9 1441.1,871.9 1456.4,871.9 1471.7,871.9 1487.1,871.9 1502.4,871.9 1517.8,871.9 1533.1,871.9 1548.4,871.9 1563.8,871.9 1579.1,871.9 1594.4,871.9 1609.8,871.9 1625.1,871.9 1640.5,871.9 1655.8,871.9 1671.1,871.9 1686.5,871.9 1701.8,871.9 1717.1,871.9 1732.5,871.9 1747.8,871.9 1763.2,871.9 1778.5,871.9 1793.8,871.9 1809.2,871.9 1824.5,871.9 1839.8,871.9 1855.2,871.9 1870.5,871.9 1885.8,871.9 1901.2,871.9 1916.5,871.9 1931.9,871.9 1947.2,871.9 1962.5,871.9 1977.9,871.9 1993.2,871.9 2008.5,871.9 2023.9,871.9 2039.2,871.9 2054.6,871.9 2069.9,871.9 2085.2,871.9 2100.6,871.9 2115.9,871.9 2131.2,871.9 2146.6,871.9 2161.9,871.9 2177.2,871.9 2192.6,871.9 2207.9,871.9 2223.3,871.9 2238.6,871.9 2253.9,871.9 2269.3,871.9 2284.6,871.9 2299.9,871.9 2315.3,871.9 2330.6,871.9 2346.0,871.9 2361.3,871.9 2376.6,871.9 2392.0,871.9 2407.3,871.9 2422.6,871.9 2438.0,871.9 2453.3,871.9 2468.7,871.9 2484.0,871.9 2499.3,871.9 2514.7,871.9 2530.0,871.9 2545.3,871.9 2560.7,871.9 2576.0,871.9 2591.3,871.9 2606.7,871.9 2622.0,871.9 2637.4,871.9 2652.7,871.9 2668.0,871.9 2683.4,871.9 2698.7,871.9 2714.0,871.9 2729.4,871.9 2744.7,871.9 2760.1,871.9 2775.4,871.9 2790.7,871.9 2806.1,871.9 2821.4,871.9 2836.7,871.9 2852.1,871.9 2867.4,871.9 2882.8,871.9 2898.1,871.9 2913.4,871.9 2928.8,871.9 2944.1,871.9 2959.4,871.9 2974.8,871.9 2990.1,871.9 3005.4,871.9 3020.8,871.9 3036.1,871.9 3051.5,871.9 3066.8,871.9" fill="none" stroke="#2a2eec" stroke-opacity="0.9" stroke-width="4.17" stroke-linejoin="round" stroke-linecap="round"/>
<polyline points="336.8,846.5 352.1,798.4 367.5,820.7 382.8,825.3 398.2,820.6 413.5,678.9 428.8,752.9 444.2,787.3 459.5,813.2 474.8,778.2 490.2,798.9 505.5,810.5 520.9,826.5 536.2,720.2 551.5,656.7 566.9,724.3 582.2,757.3 597.5,670.1 612.9,583.4 628.2,691.0 643.5,754.3 658.9,802.6 674.2,807.9 689.6,708.4 704.9,656.1 720.2,709.3 735.6,762.4 750.9,688.3 766.2,698.1 781.6,748.7 796.9,680.5 812.3,646.9 827.6,727.5 842.9,758.9 858.3,690.6 873.6,759.7 888.9,770.4 904.3,691.6 919.6,734.7 935.0,778.2 950.3,761.1 965.6,789.9 981.0,801.6 996.3,691.7 1011.6,630.6 1027.0,713.8 1042.3,775.6 1057.6,752.4 1073.0,779.1 1088.3,800.3 1103.7,816.9 1119.0,814.2 1134.3,834.0 1149.7,850.1 1165.0,859.5 1180.3,857.6 1195.7,831.4 1211.0,832.7 1226.4,841.9 1241.7,705.7 1257.0,756.3 1272.4,789.2 1287.7,763.5 1303.0,795.5 1318.4,703.4 1333.7,738.7 1349.1,777.2 1364.4,811.4 1379.7,812.1 1395.1,816.2 1410.4,825.9 1425.7,839.9 1441.1,852.3 1456.4,799.4 1471.7,812.1 1487.1,787.9 1502.4,776.3 1517.8,806.9 1533.1,692.9 1548.4,736.0 1563.8,784.4 1579.1,791.6 1594.4,808.5 1609.8,822.3 1625.1,838.4 1640.5,826.2 1655.8,841.2 1671.1,828.3 1686.5,818.5 1701.8,817.1 1717.1,836.4 1732.5,821.6 1747.8,839.9 1763.2,832.7 1778.5,851.0 1793.8,858.2 1809.2,849.7 1824.5,844.7 1839.8,840.5 1855.2,689.7 1870.5,641.7 1885.8,715.4 1901.2,755.6 1916.5,790.9 1931.9,669.7 1947.2,724.9 1962.5,777.2 1977.9,817.3 1993.2,825.6 2008.5,709.8 2023.9,749.0 2039.2,787.0 2054.6,822.6 2069.9,839.9 2085.2,836.7 2100.6,847.1 2115.9,829.2 2131.2,791.8 2146.6,814.4 2161.9,831.4 2177.2,820.3 2192.6,785.7 2207.9,674.6 2223.3,727.5 2238.6,779.8 2253.9,813.2 2269.3,820.7 2284.6,824.8 2299.9,833.5 2315.3,850.7 2330.6,844.9 2346.0,658.3 2361.3,738.0 2376.6,669.7 2392.0,730.1 2407.3,764.5 2422.6,781.1 2438.0,812.5 2453.3,815.0 2468.7,836.7 2484.0,821.1 2499.3,844.1 2514.7,834.7 2530.0,852.1 2545.3,851.3 2560.7,856.2 2576.0,852.3 2591.3,721.3 2606.7,749.1 2622.0,777.6 2637.4,798.4 2652.7,809.4 2668.0,831.4 2683.4,819.0 2698.7,707.3 2714.0,749.1 2729.4,744.3 2744.7,667.5 2760.1,628.7 2775.4,698.8 2790.7,760.0 2806.1,783.7 2821.4,807.7 2836.7,691.0 2852.1,651.1 2867.4,713.9 2882.8,776.9 2898.1,798.1 2913.4,819.5 2928.8,810.1 2944.1,819.0 2959.4,816.1 2974.8,826.2 2990.1,818.1 3005.4,694.5 3020.8,763.8 3036.1,750.0 3051.5,753.7 3066.8,795.0" fill="none" stroke="#fa7c17" stroke-opacity="0.9" stroke-width="4.17" stroke-linejoin="round" stroke-linecap="round"/>
<polyline points="336.8,904.6 352.1,901.2 367.5,886.4 382.8,862.1 398.2,830.7 413.5,795.4 428.8,759.4 444.2,726.2 459.5,699.2 474.8,681.3 490.2,675.1 505.5,682.3 520.9,704.1 536.2,740.5 551.5,790.8 566.9,853.2 582.2,925.3 597.5,1003.8 612.9,1085.2 628.2,1165.4 643.5,1240.3 658.9,1305.9 674.2,1358.7 689.6,1395.7 704.9,1414.5 720.2,1413.7 735.6,1392.8 750.9,1352.5 766.2,1294.1 781.6,1220.1 796.9,1133.8 812.3,1038.8 827.6,939.3 842.9,839.8 858.3,744.5 873.6,657.5 888.9,582.4 904.3,521.9 919.6,478.2 935.0,452.4 950.3,444.7 965.6,454.9 981.0,480.5 996.3,519.3 1011.6,568.0 1027.0,623.1 1042.3,681.0 1057.6,737.9 1073.0,790.3 1088.3,835.2 1103.7,870.1 1119.0,893.3 1134.3,904.1 1149.7,902.4 1165.0,889.1 1180.3,866.0 1195.7,835.5 1211.0,800.6 1226.4,764.5 1241.7,730.7 1257.0,702.6 1272.4,683.2 1287.7,675.2 1303.0,680.4 1318.4,700.1 1333.7,734.5 1349.1,782.8 1364.4,843.6 1379.7,914.5 1395.1,992.3 1410.4,1073.5 1425.7,1154.1 1441.1,1230.0 1456.4,1297.3 1471.7,1352.1 1487.1,1391.5 1502.4,1413.0 1517.8,1415.0 1533.1,1397.0 1548.4,1359.4 1563.8,1303.5 1579.1,1231.6 1594.4,1146.7 1609.8,1052.7 1625.1,953.6 1640.5,853.9 1655.8,757.7 1671.1,669.3 1686.5,592.3 1701.8,529.6 1717.1,483.4 1732.5,455.0 1747.8,444.7 1763.2,452.4 1778.5,476.0 1793.8,513.0 1809.2,560.5 1824.5,615.0 1839.8,672.7 1855.2,729.9 1870.5,783.2 1885.8,829.3 1901.2,865.8 1916.5,890.8 1931.9,903.3 1947.2,903.4 1962.5,891.7 1977.9,869.9 1993.2,840.2 2008.5,805.7 2023.9,769.6 2039.2,735.2 2054.6,706.1 2069.9,685.3 2085.2,675.5 2100.6,678.8 2115.9,696.4 2131.2,728.7 2146.6,775.1 2161.9,834.2 2177.2,903.8 2192.6,980.9 2207.9,1061.9 2223.3,1142.8 2238.6,1219.6 2253.9,1288.3 2269.3,1345.1 2284.6,1386.9 2299.9,1411.1 2315.3,1415.9 2330.6,1400.8 2346.0,1365.9 2361.3,1312.5 2376.6,1242.7 2392.0,1159.5 2407.3,1066.6 2422.6,967.9 2438.0,868.0 2453.3,771.1 2468.7,681.3 2484.0,602.5 2499.3,537.6 2514.7,488.9 2530.0,457.9 2545.3,445.6 2560.7,448.5 2576.0,467.8 2591.3,501.2 2606.7,546.1 2622.0,598.9 2637.4,656.1 2652.7,713.8 2668.0,768.6 2683.4,817.0 2698.7,856.5 2714.0,884.9 2729.4,901.0 2744.7,904.6 2760.1,896.1 2775.4,877.0 2790.7,849.3 2806.1,815.9 2821.4,779.9 2836.7,744.7 2852.1,713.7 2867.4,690.2 2882.8,677.1 2898.1,676.5 2913.4,689.9 2928.8,718.0 2944.1,760.4 2959.4,816.2 2974.8,883.1 2990.1,958.3 3005.4,1038.6 3020.8,1119.9 3036.1,1198.4 3051.5,1269.8 3066.8,1330.3" fill="none" stroke="#328c06" stroke-opacity="0.9" stroke-width="4.17" stroke-linejoin="round" stroke-linecap="round"/>
<polyline points="336.8,871.9 352.1,871.9 367.5,871.9 382.8,871.9 398.2,871.9 413.5,871.9 428.8,871.9 444.2,871.9 459.5,871.9 474.8,871.9 490.2,871.9 505.5,871.9 520.9,871.9 536.2,871.9 551.5,871.9 566.9,871.9 582.2,871.9 597.5,871.9 612.9,871.9 628.2,871.9 643.5,871.9 658.9,871.9 674.2,871.9 689.6,871.9 704.9,871.9 720.2,871.9 735.6,871.9 750.9,871.9 766.2,871.9 781.6,871.9 796.9,871.9 812.3,871.9 827.6,871.9 842.9,871.9 858.3,871.9 873.6,871.9 888.9,871.9 904.3,871.9 919.6,871.9 935.0,871.9 950.3,871.9 965.6,871.9 981.0,871.9 996.3,871.9 1011.6,871.9 1027.0,871.9 1042.3,871.9 1057.6,871.9 1073.0,871.9 1088.3,871.9 1103.7,871.9 1119.0,871.9 1134.3,871.9 1149.7,871.9 1165.0,871.9 1180.3,871.9 1195.7,871.9 1211.0,871.9 1226.4,871.9 1241.7,871.9 1257.0,871.9 1272.4,871.9 1287.7,871.9 1303.0,871.9 1318.4,871.9 1333.7,871.9 1349.1,871.9 1364.4,871.9 1379.7,871.9 1395.1,871.9 1410.4,871.9 1425.7,871.9 1441.1,871.9 1456.4,871.9 1471.7,871.9 1487.1,871.9 1502.4,871.9 1517.8,871.9 1533.1,871.9 1548.4,871.9 1563.8,871.9 1579.1,871.9 1594.4,871.9 1609.8,871.9 1625.1,871.9 1640.5,871.9 1655.8,871.9 1671.1,871.9 1686.5,871.9 1701.8,871.9 1717.1,871.9 1732.5,871.9 1747.8,871.9 1763.2,871.9 1778.5,871.9 1793.8,871.9 1809.2,871.9 1824.5,871.9 1839.8,871.9 1855.2,871.9 1870.5,871.9 1885.8,871.9 1901.2,871.9 1916.5,871.9 1931.9,871.9 1947.2,871.9 1962.5,871.9 1977.9,871.9 1993.2,871.9 2008.5,871.9 2023.9,871.9 2039.2,871.9 2054.6,871.9 2069.9,871.9 2085.2,871.9 2100.6,871.9 2115.9,871.9 2131.2,871.9 2146.6,871.9 2161.9,871.9 2177.2,871.9 2192.6,871.9 2207.9,871.9 2223.3,871.9 2238.6,871.9 2253.9,871.9 2269.3,871.9 2284.6,871.9 2299.9,250.5 2315.3,871.9 2330.6,871.9 2346.0,871.9 2361.3,871.9 2376.6,871.9 2392.0,871.9 2407.3,871.9 2422.6,871.9 2438.0,871.9 2453.3,871.9 2468.7,871.9 2484.0,871.9 2499.3,871.9 2514.7,871.9 2530.0,871.9 2545.3,871.9 2560.7,871.9 2576.0,871.9 2591.3,871.9 2606.7,871.9 2622.0,871.9 2637.4,871.9 2652.7,871.9 2668.0,871.9 2683.4,871.9 2698.7,871.9 2714.0,871.9 2729.4,871.9 2744.7,871.9 2760.1,871.9 2775.4,871.9 2790.7,871.9 2806.1,871.9 2821.4,871.9 2836.7,871.9 2852.1,871.9 2867.4,871.9 2882.8,871.9 2898.1,871.9 2913.4,871.9 2928.8,871.9 2944.1,871.9 2959.4,871.9 2974.8,871.9 2990.1,871.9 3005.4,871.9 3020.8,871.9 3036.1,871.9 3051.5,871.9 3066.8,871.9" fill="none" stroke="#c10c90" stroke-opacity="0.9" stroke-width="4.17" stroke-linejoin="round" stroke-linecap="round"/>
<polyline points="336.8,846.5 352.1,798.4 367.5,820.7 382.8,825.3 398.2,820.6 413.5,678.9 428.8,752.9 444.2,787.3 459.5,813.2 474.8,778.2 490.2,798.9 505.5,810.5 520.9,826.5 536.2,720.2 551.5,656.7 566.9,724.3 582.2,757.3 597.5,670.1 612.9,583.4 628.2,691.0 643.5,754.3 658.9,802.6 674.2,807.9 689.6,708.4 704.9,656.1 720.2,709.3 735.6,762.4 750.9,688.3 766.2,698.1 781.6,748.7 796.9,680.5 812.3,646.9 827.6,727.5 842.9,758.9 858.3,690.6 873.6,759.7 888.9,770.4 904.3,691.6 919.6,734.7 935.0,778.2 950.3,761.1 965.6,789.9 981.0,801.6 996.3,691.7 1011.6,630.6 1027.0,713.8 1042.3,775.6 1057.6,752.4 1073.0,779.1 1088.3,800.3 1103.7,816.9 1119.0,814.2 1134.3,834.0 1149.7,850.1 1165.0,859.5 1180.3,857.6 1195.7,831.4 1211.0,832.7 1226.4,841.9 1241.7,705.7 1257.0,756.3 1272.4,789.2 1287.7,763.5 1303.0,795.5 1318.4,703.4 1333.7,738.7 1349.1,777.2 1364.4,811.4 1379.7,812.1 1395.1,816.2 1410.4,825.9 1425.7,839.9 1441.1,852.3 1456.4,799.4 1471.7,812.1 1487.1,787.9 1502.4,776.3 1517.8,806.9 1533.1,692.9 1548.4,736.0 1563.8,784.4 1579.1,791.6 1594.4,808.5 1609.8,822.3 1625.1,838.4 1640.5,826.2 1655.8,841.2 1671.1,828.3 1686.5,818.5 1701.8,817.1 1717.1,836.4 1732.5,821.6 1747.8,839.9 1763.2,832.7 1778.5,851.0 1793.8,858.2 1809.2,849.7 1824.5,844.7 1839.8,840.5 1855.2,689.7 1870.5,641.7 1885.8,715.4 1901.2,755.6 1916.5,790.9 1931.9,669.7 1947.2,724.9 1962.5,777.2 1977.9,817.3 1993.2,825.6 2008.5,709.8 2023.9,749.0 2039.2,787.0 2054.6,822.6 2069.9,839.9 2085.2,836.7 2100.6,847.1 2115.9,829.2 2131.2,791.8 2146.6,814.4 2161.9,831.4 2177.2,820.3 2192.6,785.7 2207.9,674.6 2223.3,727.5 2238.6,779.8 2253.9,813.2 2269.3,820.7 2284.6,824.8 2299.9,833.5 2315.3,850.7 2330.6,844.9 2346.0,658.3 2361.3,738.0 2376.6,669.7 2392.0,730.1 2407.3,764.5 2422.6,781.1 2438.0,812.5 2453.3,815.0 2468.7,836.7 2484.0,821.1 2499.3,844.1 2514.7,834.7 2530.0,852.1 2545.3,851.3 2560.7,856.2 2576.0,852.3 2591.3,721.3 2606.7,749.1 2622.0,777.6 2637.4,798.4 2652.7,809.4 2668.0,831.4 2683.4,819.0 2698.7,707.3 2714.0,749.1 2729.4,744.3 2744.7,667.5 2760.1,628.7 2775.4,698.8 2790.7,760.0 2806.1,783.7 2821.4,807.7 2836.7,691.0 2852.1,651.1 2867.4,713.9 2882.8,776.9 2898.1,798.1 2913.4,819.5 2928.8,810.1 2944.1,819.0 2959.4,816.1 2974.8,826.2 2990.1,818.1 3005.4,694.5 3020.8,763.8 3036.1,750.0 3051.5,753.7 3066.8,795.0" fill="none" stroke="#933708" stroke-opacity="0.9" stroke-width="4.17" stroke-linejoin="round" stroke-linecap="round"/>
<polyline points="336.8,904.6 352.1,901.2 367.5,886.4 382.8,862.1 398.2,830.7 413.5,795.4 428.8,759.4 444.2,726.2 459.5,699.2 474.8,681.3 490.2,675.1 505.5,682.3 520.9,704.1 536.2,740.5 551.5,790.8 566.9,853.2 582.2,925.3 597.5,1003.8 612.9,1085.2 628.2,1165.4 643.5,1240.3 658.9,1305.9 674.2,1358.7 689.6,1395.7 704.9,1414.5 720.2,1413.7 735.6,1392.8 750.9,1352.5 766.2,1294.1 781.6,1220.1 796.9,1133.8 812.3,1038.8 827.6,939.3 842.9,839.8 858.3,744.5 873.6,657.5 888.9,582.4 904.3,521.9 919.6,478.2 935.0,452.4 950.3,444.7 965.6,454.9 981.0,480.5 996.3,519.3 1011.6,568.0 1027.0,623.1 1042.3,681.0 1057.6,737.9 1073.0,790.3 1088.3,835.2 1103.7,870.1 1119.0,893.3 1134.3,904.1 1149.7,902.4 1165.0,889.1 1180.3,866.0 1195.7,835.5 1211.0,800.6 1226.4,764.5 1241.7,730.7 1257.0,702.6 1272.4,683.2 1287.7,675.2 1303.0,680.4 1318.4,700.1 1333.7,734.5 1349.1,782.8 1364.4,843.6 1379.7,914.5 1395.1,992.3 1410.4,1073.5 1425.7,1154.1 1441.1,1230.0 1456.4,1297.3 1471.7,1352.1 1487.1,1391.5 1502.4,1413.0 1517.8,1415.0 1533.1,1397.0 1548.4,1359.4 1563.8,1303.5 1579.1,1231.6 1594.4,1146.7 1609.8,1052.7 1625.1,953.6 1640.5,853.9 1655.8,757.7 1671.1,669.3 1686.5,592.3 1701.8,529.6 1717.1,483.4 1732.5,455.0 1747.8,444.7 1763.2,452.4 1778.5,476.0 1793.8,513.0 1809.2,560.5 1824.5,615.0 1839.8,672.7 1855.2,729.9 1870.5,783.2 1885.8,829.3 1901.2,865.8 1916.5,890.8 1931.9,903.3 1947.2,903.4 1962.5,891.7 1977.9,869.9 1993.2,840.2 2008.5,805.7 2023.9,769.6 2039.2,735.2 2054.6,706.1 2069.9,685.3 2085.2,675.5 2100.6,678.8 2115.9,696.4 2131.2,728.7 2146.6,775.1 2161.9,834.2 2177.2,903.8 2192.6,980.9 2207.9,1061.9 2223.3,1142.8 2238.6,1219.6 2253.9,1288.3 2269.3,1345.1 2284.6,1386.9 2299.9,1411.1 2315.3,1415.9 2330.6,1400.8 2346.0,1365.9 2361.3,1312.5 2376.6,1242.7 2392.0,1159.5 2407.3,1066.6 2422.6,967.9 2438.0,868.0 2453.3,771.1 2468.7,681.3 2484.0,602.5 2499.3,537.6 2514.7,488.9 2530.0,457.9 2545.3,445.6 2560.7,448.5 2576.0,467.8 2591.3,501.2 2606.7,546.1 2622.0,598.9 2637.4,656.1 2652.7,713.8 2668.0,768.6 2683.4,817.0 2698.7,856.5 2714.0,884.9 2729.4,901.0 2744.7,904.6 2760.1,896.1 2775.4,877.0 2790.7,849.3 2806.1,815.9 2821.4,779.9 2836.7,744.7 2852.1,713.7 2867.4,690.2 2882.8,677.1 2898.1,676.5 2913.4,689.9 2928.8,718.0 2944.1,760.4 2959.4,816.2 2974.8,883.1 2990.1,958.3 3005.4,1038.6 3020.8,1119.9 3036.1,1198.4 3051.5,1269.8 3066.8,1330.3" fill="none" stroke="#65e5f3" stroke-opacity="0.9" stroke-width="4.17" stroke-linejoin="round" stroke-linecap="round"/>
</g>
<line x1="235.0" x2="312.8" y1="122.0" y2="122.0" stroke="#2a2eec" stroke-opacity="0.9" stroke-width="4.17" stroke-linecap="round"/>
<text x="343.9" y="135.7" font-size="38.89">control_contribution (control=event_1)</text>
<line x1="235.0" x2="312.8" y1="180.4" y2="180.4" stroke="#fa7c17" stroke-opacity="0.9" stroke-width="4.17" stroke-linecap="round"/>
<text x="343.9" y="194.1" font-size="38.89">channel_contribution (control=event_1)</text>
<line x1="235.0" x2="312.8" y1="238.8" y2="238.8" stroke="#328c06" stroke-opacity="0.9" stroke-width="4.17" stroke-linecap="round"/>
<text x="343.9" y="252.5" font-size="38.89">yearly_seasonality_contribution (control=event_1)</text>
<line x1="235.0" x2="312.8" y1="297.2" y2="297.2" stroke="#c10c90" stroke-opacity="0.9" stroke-width="4.17" stroke-linecap="round"/>
<text x="343.9" y="310.9" font-size="38.89">control_contribution (control=event_2)</text>
<line x1="235.0" x2="312.8" y1="355.6" y2="355.6" stroke="#933708" stroke-opacity="0.9" stroke-width="4.17" stroke-linecap="round"/>
<text x="343.9" y="369.3" font-size="38.89">channel_contribution (control=event_2)</text>
<line x1="235.0" x2="312.8" y1="414.0" y2="414.0" stroke="#65e5f3" stroke-opacity="0.9" stroke-width="4.17" stroke-linecap="round"/>
<text x="343.9" y="427.7" font-size="38.89">yearly_seasonality_contribution (control=event_2)</text>
<text x="534.0" y="1543.8" font-size="38.89" text-anchor="middle">2018-07</text>
<text x="937.1" y="1543.8" font-size="38.89" text-anchor="middle">2019-01</text>
<text x="1333.7" y="1543.8" font-size="38.89" text-anchor="middle">2019-07</text>
<text x="1736.9" y="1543.8" font-size="38.89" text-anchor="middle">2020-01</text>
<text x="2135.6" y="1543.8" font-size="38.89" text-anchor="middle">2020-07</text>
<text x="2538.8" y="1543.8" font-size="38.89" text-anchor="middle">2021-01</text>
<text x="2935.3" y="1543.8" font-size="38.89" text-anchor="middle">2021-07</text>
<text x="190.0" y="133.6" font-size="38.89" text-anchor="end">1.00</text>
<text x="190.0" y="322.1" font-size="38.89" text-anchor="end">0.75</text>
<text x="190.0" y="510.7" font-size="38.89" text-anchor="end">0.50</text>
<text x="190.0" y="698.6" font-size="38.89" text-anchor="end">0.25</text>
<text x="190.0" y="886.6" font-size="38.89" text-anchor="end">0.00</text>
<text x="190.0" y="1074.6" font-size="38.89" text-anchor="end">−0.25</text>
<text x="190.0" y="1262.7" font-size="38.89" text-anchor="end">−0.50</text>
<text x="190.0" y="1450.8" font-size="38.89" text-anchor="end">−0.75</text>
<text x="1701.5" y="54.3" font-size="44.44" text-anchor="middle">Time Series Contributions</text>
<text x="1701.5" y="1594.8" font-size="41.67" text-anchor="middle">Date</text>
<text transform="translate(50.4 788.2) rotate(-90)" font-size="41.67" text-anchor="middle">Posterior Value</text>
</svg>
</body></html>
